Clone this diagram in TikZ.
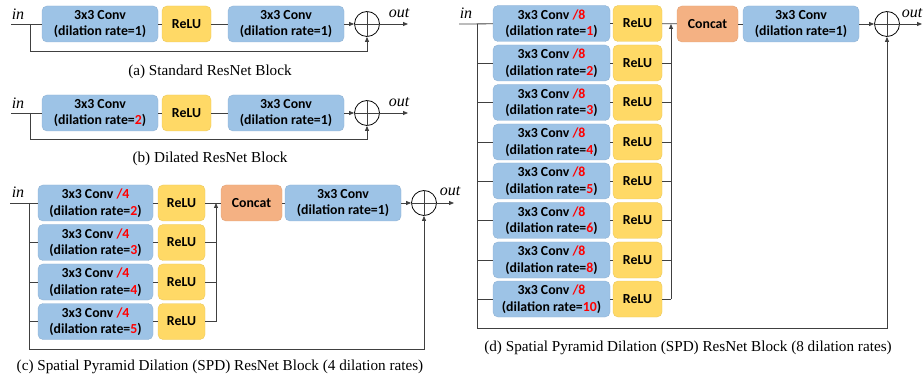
\documentclass[tikz,border=0pt]{standalone}
\usepackage{fontspec}
\setmainfont{Liberation Serif}
\newfontfamily\boxfont{Carlito}
\usetikzlibrary{arrows.meta}
\definecolor{convblue}{HTML}{9DC3E6}
\definecolor{reluyel}{HTML}{FFD966}
\definecolor{catorange}{HTML}{F4B183}
\definecolor{lineg}{HTML}{404040}
\definecolor{rd}{HTML}{FF0000}
\begin{document}
\begin{tikzpicture}[x=1pt,y=-1pt,
  blk/.style={rounded corners=5pt, inner sep=0pt, align=center, font=\boxfont\bfseries\fontsize{13.8}{16.5}\selectfont, minimum height=36pt, line width=0.4pt},
  convbox/.style={blk, fill=convblue, draw=convblue!92!black, minimum width=116pt},
  relubox/.style={blk, fill=reluyel, draw=reluyel!92!black, minimum width=49pt},
  catbox/.style={blk, fill=catorange, draw=catorange!92!black, minimum width=61pt},
  wire/.style={draw=lineg, line width=0.8pt},
  arr/.style={wire, -{Triangle[length=5pt,width=4pt]}},
  sumnode/.style={circle, draw=black, line width=0.8pt, minimum size=25pt, inner sep=0pt},
  lbl/.style={font=\itshape\fontsize{16}{16}\selectfont, inner sep=0pt},
  captext/.style={font=\fontsize{15.2}{15.2}\selectfont, inner sep=0pt}]

\useasboundingbox (0,0) rectangle (923,379);

% ---------- (a) ----------
\node[lbl] (ain) at (18,14) {in};
\coordinate (as) at (11,24);
\coordinate (aj) at (30,24);
\node[convbox] (a1) at (100,24) {3x3 Conv\\(dilation rate=1)};
\node[relubox] (ar) at (186.5,24) {ReLU};
\node[convbox] (a2) at (286,24) {3x3 Conv\\(dilation rate=1)};
\node[sumnode] (asum) at (367,24) {};
\draw[wire] (asum.north)--(asum.south) (asum.west)--(asum.east);
\coordinate (aout) at (408,24);
\node[lbl] (aoutl) at (399,13) {out};
\draw[wire] (as) -- (a1);
\draw[wire] (a1) -- (ar);
\draw[wire] (ar) -- (a2);
\draw[arr] (a2) -- (asum);
\draw[arr] (asum) -- (aout);
\coordinate (ab) at (30,51);
\draw[wire] (aj) -- (ab);
\draw[arr] (ab) -| (asum.south);
\node[captext] (acap) at (210,72) {(a) Standard ResNet Block};

% ---------- (b) ----------
\node[lbl] (bin) at (18,103) {in};
\coordinate (bs) at (11,113);
\coordinate (bj) at (30,113);
\node[convbox] (b1) at (100,113) {3x3 Conv\\(dilation rate=\textcolor{rd}{2})};
\node[relubox] (br) at (186.5,113) {ReLU};
\node[convbox] (b2) at (286,113) {3x3 Conv\\(dilation rate=1)};
\node[sumnode] (bsum) at (367,113) {};
\draw[wire] (bsum.north)--(bsum.south) (bsum.west)--(bsum.east);
\coordinate (bout) at (408,113);
\node[lbl] (boutl) at (399,102) {out};
\draw[wire] (bs) -- (b1);
\draw[wire] (b1) -- (br);
\draw[wire] (br) -- (b2);
\draw[arr] (b2) -- (bsum);
\draw[arr] (bsum) -- (bout);
\coordinate (bb) at (30,139);
\draw[wire] (bj) -- (bb);
\draw[arr] (bb) -| (bsum.south);
\node[captext] (bcap) at (210,159) {(b) Dilated ResNet Block};

% ---------- (c) ----------
\node[lbl] (cin) at (18,192) {in};
\coordinate (cs) at (10,203);
\coordinate (cj) at (29,203);
\foreach \r/\y [count=\i] in {2/203,3/242.5,4/282,5/321.5} {
  \node[convbox, minimum width=115pt] (c\i) at (95.5,\y) {3x3 Conv \textcolor{rd}{/4}\\(dilation rate=\textcolor{rd}{\r})};
  \node[relubox, minimum width=47pt] (cr\i) at (181.5,\y) {ReLU};
  \draw[wire] (c\i) -- (cr\i);
}
\coordinate (cm) at (216,203);
\node[catbox] (ccat) at (251.5,203) {Concat};
\node[convbox] (cf) at (343,203) {3x3 Conv\\(dilation rate=1)};
\node[sumnode] (csum) at (424,203) {};
\draw[wire] (csum.north)--(csum.south) (csum.west)--(csum.east);
\coordinate (cout) at (454,203);
\node[lbl] (coutl) at (450,191) {out};
\draw[wire] (cs) -- (c1);
\foreach \i in {2,3,4} { \draw[wire] (cj |- c\i.west) -- (c\i.west); }
\foreach \i in {2,3} { \draw[wire] (cr\i.east) -- (cm |- cr\i.east); }
\draw[wire] (cr4.east) -- (cm |- cr4.east);
\draw[arr] (cm |- cr4.east) -- (cm);
\draw[wire] (cr1) -- (ccat);
\draw[wire] (ccat) -- (cf);
\draw[arr] (cf) -- (csum);
\draw[arr] (csum) -- (cout);
\coordinate (cb) at (29,349);
\draw[wire] (cj) -- (cb);
\draw[arr] (cb) -| (csum.south);
\node[captext] (ccap) at (220,367) {(c) Spatial Pyramid Dilation (SPD) ResNet Block (4 dilation rates)};

% ---------- (d) ----------
\node[lbl] (din) at (466,13) {in};
\coordinate (ds) at (459,24);
\coordinate (dj) at (477,24);
\foreach \r/\y [count=\i] in {1/23.5,2/63,3/102.5,4/142,5/181,6/220.5,8/260,10/299} {
  \node[convbox, minimum width=117pt] (d\i) at (551.5,\y) {3x3 Conv \textcolor{rd}{/8}\\(dilation rate=\textcolor{rd}{\r})};
  \node[relubox] (dr\i) at (637.5,\y) {ReLU};
  \draw[wire] (d\i) -- (dr\i);
}
\coordinate (dm) at (671,24);
\node[catbox] (dcat) at (707.5,24) {Concat};
\node[convbox] (df) at (801,24) {3x3 Conv\\(dilation rate=1)};
\node[sumnode] (dsum) at (887,24) {};
\draw[wire] (dsum.north)--(dsum.south) (dsum.west)--(dsum.east);
\coordinate (dout) at (922,24);
\node[lbl] (doutl) at (912,13) {out};
\draw[wire] (ds) -- (d1);
\foreach \i in {2,...,8} { \draw[wire] (dj |- d\i.west) -- (d\i.west); }
\foreach \i in {2,...,7} { \draw[wire] (dr\i.east) -- (dm |- dr\i.east); }
\draw[wire] (dr8.east) -- (dm |- dr8.east);
\draw[arr] (dm |- dr8.east) -- (dm);
\draw[wire] (dr1) -- (dcat);
\draw[wire] (dcat) -- (df);
\draw[arr] (df) -- (dsum);
\draw[arr] (dsum) -- (dout);
\coordinate (db) at (477,328);
\draw[wire] (dj) -- (db);
\draw[arr] (db) -| (dsum.south);
\node[captext] (dcap) at (688,348) {(d) Spatial Pyramid Dilation (SPD) ResNet Block (8 dilation rates)};
\end{tikzpicture}
\end{document}
